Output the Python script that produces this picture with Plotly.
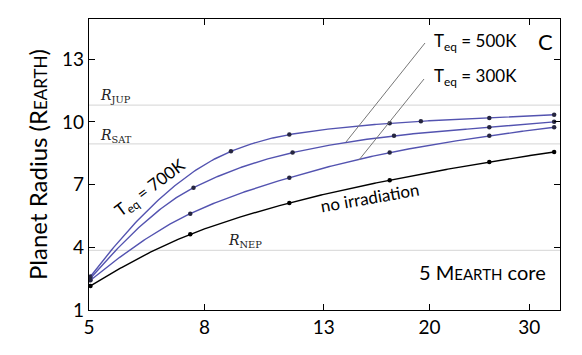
import plotly.graph_objects as go
import numpy as np
import math

# ---- data ----
mass_none = [5.03, 7.55, 11.3, 17.0, 25.5, 33.2]
radius_none = [2.15, 4.62, 6.12, 7.21, 8.08, 8.56]

mass_300 = [5.03, 7.55, 11.3, 17.0, 25.5, 33.2]
radius_300 = [2.42, 5.61, 7.33, 8.53, 9.33, 9.74]

mass_500 = [5.03, 7.65, 11.45, 17.3, 25.5, 33.2]
radius_500 = [2.52, 6.85, 8.53, 9.33, 9.74, 10.0]

mass_700 = [5.03, 8.91, 11.3, 17.0, 19.3, 25.5, 33.2]
radius_700 = [2.6, 8.59, 9.39, 9.93, 10.03, 10.19, 10.34]

ref_names = ["<i>R</i><sub>JUP</sub>", "<i>R</i><sub>SAT</sub>", "<i>R</i><sub>NEP</sub>"]
ref_values = [10.8, 8.95, 3.85]

x_ticks = [5, 8, 13, 20, 30]
y_ticks = [1, 4, 7, 10, 13]

BLUE = "#5353B0"
MARK = "#262640"
FONT = "Lato"


def smooth_curve(xs, ys, n=60):
    """Monotone cubic (PCHIP) rendering of the line through the data, in log-x space."""
    lx = np.log10(np.asarray(xs, float))
    y = np.asarray(ys, float)
    h = np.diff(lx)
    d = np.diff(y) / h
    m = np.zeros_like(y)
    for k in range(1, len(y) - 1):
        if d[k - 1] * d[k] > 0:
            w1 = 2 * h[k] + h[k - 1]
            w2 = h[k] + 2 * h[k - 1]
            m[k] = (w1 + w2) / (w1 / d[k - 1] + w2 / d[k])
    def end(h0, h1, d0, d1):
        v = ((2 * h0 + h1) * d0 - h0 * d1) / (h0 + h1)
        if np.sign(v) != np.sign(d0):
            v = 0.0
        elif np.sign(d0) != np.sign(d1) and abs(v) > abs(3 * d0):
            v = 3 * d0
        return v
    m[0] = end(h[0], h[1], d[0], d[1])
    m[-1] = end(h[-1], h[-2], d[-1], d[-2])
    out_x, out_y = [], []
    for k in range(len(h)):
        t = np.linspace(0, 1, n, endpoint=(k == len(h) - 1))
        h00 = 2 * t**3 - 3 * t**2 + 1
        h10 = t**3 - 2 * t**2 + t
        h01 = -2 * t**3 + 3 * t**2
        h11 = t**3 - t**2
        yy = h00 * y[k] + h10 * h[k] * m[k] + h01 * y[k + 1] + h11 * h[k] * m[k + 1]
        out_x.extend(10 ** (lx[k] + t * h[k]))
        out_y.extend(yy)
    return out_x, out_y


fig = go.Figure()

for xs, ys, col in [(mass_700, radius_700, BLUE), (mass_500, radius_500, BLUE),
                    (mass_300, radius_300, BLUE), (mass_none, radius_none, "black")]:
    cx, cy = smooth_curve(xs, ys)
    fig.add_trace(go.Scatter(x=cx, y=cy, mode="lines",
                             line=dict(color=col, width=1.4),
                             showlegend=False, hoverinfo="skip"))
    fig.add_trace(go.Scatter(x=xs, y=ys, mode="markers",
                             marker=dict(color=MARK if col != "black" else "black", size=4.5),
                             showlegend=False, hoverinfo="skip"))

# reference radius lines
for v in ref_values:
    fig.add_shape(type="line", xref="paper", x0=0, x1=1, yref="y", y0=v, y1=v,
                  line=dict(color="#dddddd", width=1.2), layer="below")

# leader lines for labels
fig.add_shape(type="line", xref="paper", yref="paper",
              x0=0.5456, y0=0.5773, x1=0.7134, y1=0.9175,
              line=dict(color="#777777", width=1))
fig.add_shape(type="line", xref="paper", yref="paper",
              x0=0.5732, y0=0.5155, x1=0.7113, y1=0.7938,
              line=dict(color="#777777", width=1))

serif = dict(family="DejaVu Serif", size=14, color="#222222")
ann = [
    dict(text=ref_names[0], x=0.02, y=0.735, xanchor="left", font=serif),
    dict(text=ref_names[1], x=0.02, y=0.598, xanchor="left", font=serif),
    dict(text=ref_names[2], x=0.29, y=0.237, xanchor="left", font=serif),
    dict(text="T<sub>eq</sub> = 700K", x=0.1316, y=0.419, textangle=-37,
         font=dict(family=FONT, size=17, color="black")),
    dict(text="no irradiation", x=0.597, y=0.385, textangle=-10,
         font=dict(family=FONT, size=17, color="black")),
    dict(text="T<sub>eq</sub> = 500K", x=0.728, y=0.921, xanchor="left",
         font=dict(family=FONT, size=17, color="black")),
    dict(text="T<sub>eq</sub> = 300K", x=0.728, y=0.801, xanchor="left",
         font=dict(family=FONT, size=17, color="black")),
    dict(text="C", x=0.970, y=0.921, font=dict(family=FONT, size=22, color="black")),
    dict(text="5 M<span style='font-size:15px'>EARTH</span> core", x=0.975, y=0.131,
         xanchor="right", font=dict(family=FONT, size=20, color="black")),
]
for a in ann:
    a.setdefault("xref", "paper")
    a.setdefault("yref", "paper")
    a.setdefault("xanchor", "center")
    a.setdefault("yanchor", "middle")
    a["showarrow"] = False
    fig.add_annotation(**a)

axis_common = dict(showline=True, linecolor="black", linewidth=1.3, mirror="ticks",
                   ticks="inside", ticklen=6, tickwidth=1.3, tickcolor="black",
                   showgrid=False, zeroline=False, automargin=False,
                   tickfont=dict(family=FONT, size=19, color="black"))

fig.update_xaxes(type="log", range=[math.log10(5), math.log10(34)],
                 tickvals=x_ticks, ticktext=[str(t) for t in x_ticks], **axis_common)
fig.update_yaxes(range=[1, 14.92], tickvals=y_ticks, ticktext=[str(t) for t in y_ticks],
                 title=dict(text="Planet Radius (R<span style='font-size:17px'>EARTH</span>)",
                            font=dict(family=FONT, size=24, color="black"), standoff=7),
                 **axis_common)

# the page body adds an 8px offset, so margins are shifted to compensate
fig.update_layout(width=582, height=355, margin=dict(l=81, r=30, t=11, b=53),
                  paper_bgcolor="white", plot_bgcolor="white")

fig.write_html("out.html")
